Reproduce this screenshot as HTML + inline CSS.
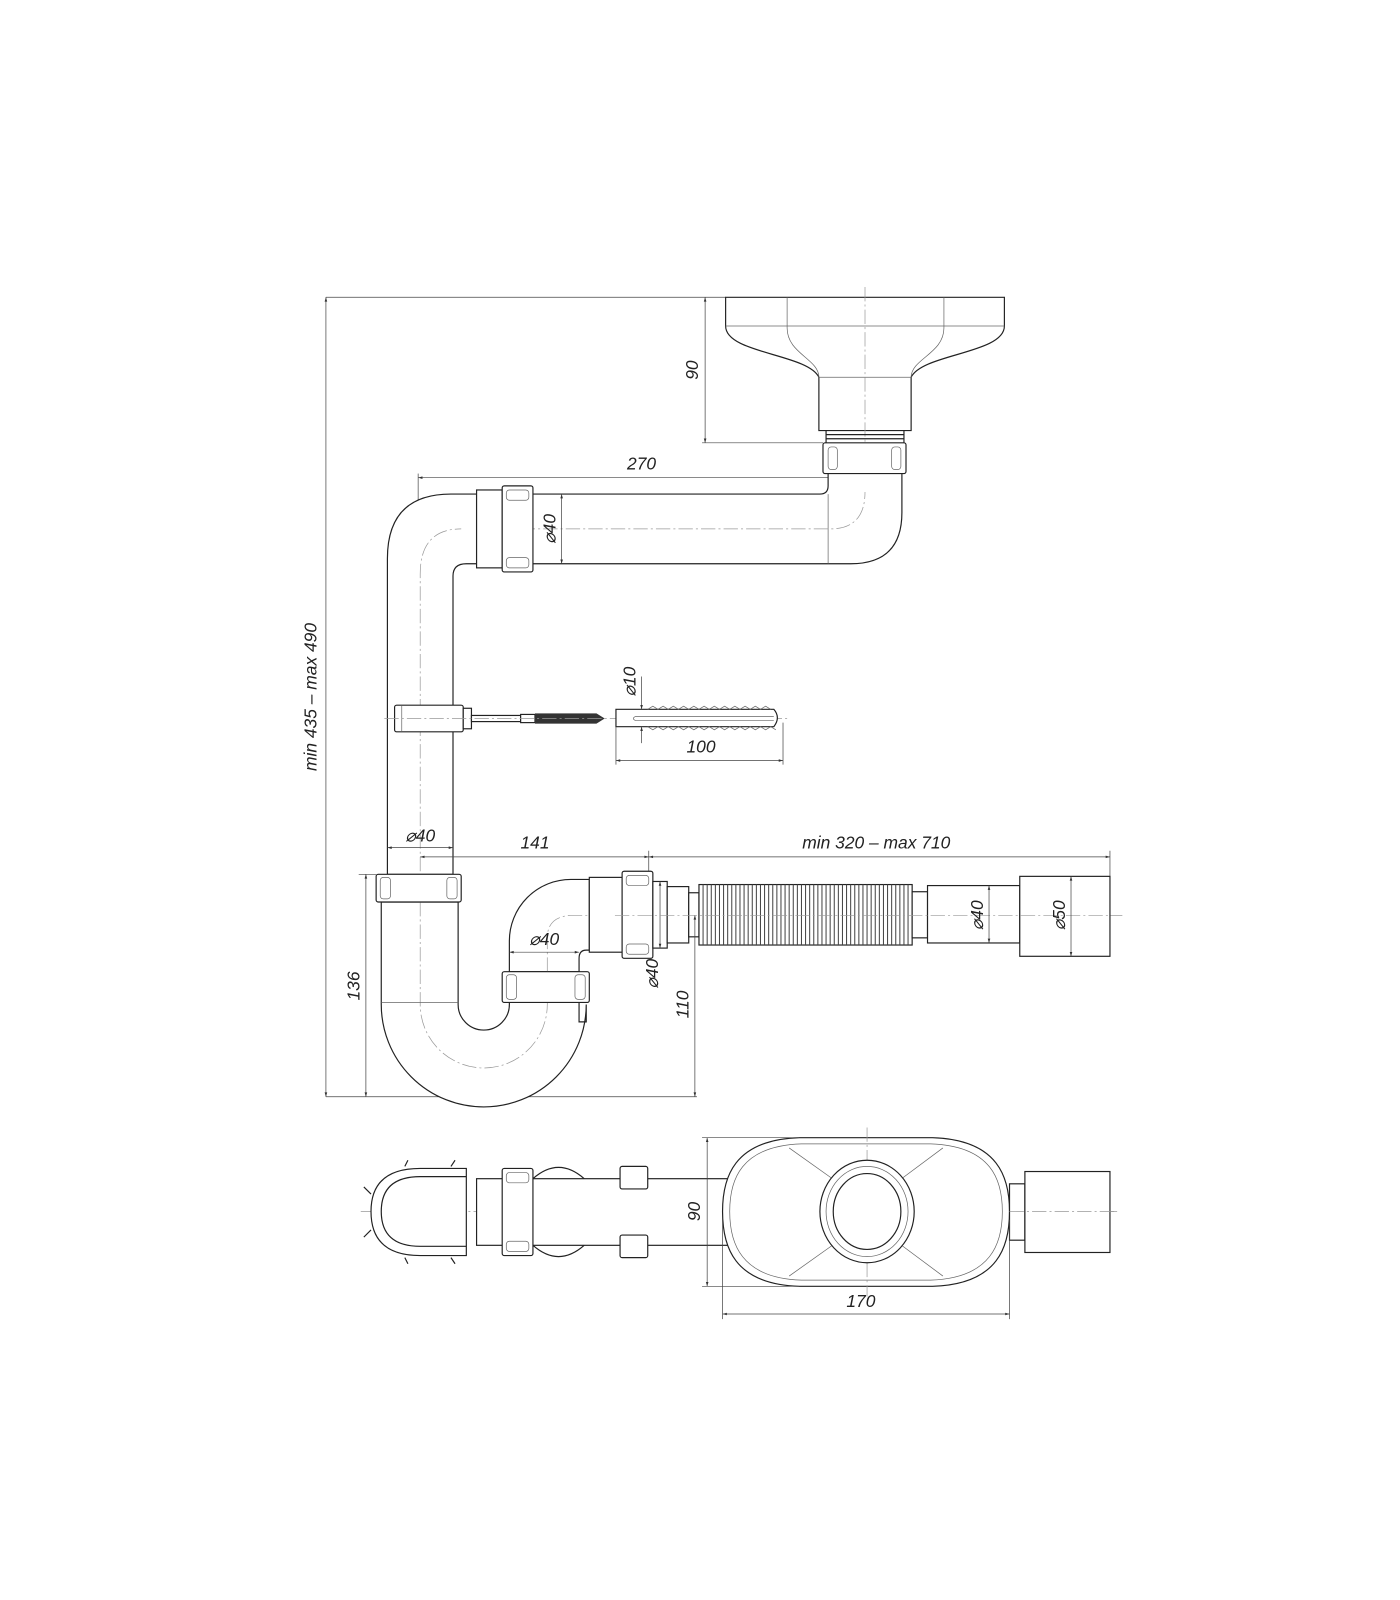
<!DOCTYPE html>
<html><head><meta charset="utf-8"><style>
html,body{margin:0;padding:0;background:#fff}
svg{display:block}
text{font-family:"Liberation Sans",sans-serif;font-style:italic;font-size:17px;fill:#222}
.o{fill:none;stroke:#222;stroke-width:1.15}
.t{fill:none;stroke:#666;stroke-width:0.7}
.c{fill:none;stroke:#999;stroke-width:0.7;stroke-dasharray:14 3 2 3}
.d{fill:none;stroke:#444;stroke-width:0.7}
.w{fill:#fff;stroke:#222;stroke-width:1.15}
</style></head><body>
<svg width="1400" height="1600" viewBox="0 0 1366 1561" xmlns="http://www.w3.org/2000/svg">
<defs>
<marker id="a" viewBox="0 0 10 10" refX="10" refY="5" markerWidth="9" markerHeight="6" orient="auto-start-reverse"><path d="M0,2 L10,5 L0,8" fill="#333"/></marker>
</defs>

<line class="d" x1="318" y1="290" x2="708" y2="290"/>
<line class="d" x1="318" y1="290" x2="318" y2="1070" marker-start="url(#a)" marker-end="url(#a)"/>
<text transform="translate(309,680) rotate(-90)" text-anchor="middle">min 435 – max 490</text>
<line class="d" x1="318" y1="1070" x2="680" y2="1070"/>

<!-- funnel -->
<path class="w" d="M708,290 L980,290 L980,318 C980,345 900,345 889,368 L889,420 L799,420 L799,368 C788,345 708,345 708,318 Z"/>
<line class="t" x1="708" y1="318" x2="980" y2="318"/>
<path class="t" d="M768,290 L768,320 C768,345 799,350 799,368 M921,290 L921,320 C921,345 889,350 889,368"/>
<line class="t" x1="799" y1="368" x2="889" y2="368"/>
<line class="c" x1="844" y1="280" x2="844" y2="470"/>
<path class="o" d="M806,420 L806,432 M882,420 L882,432 M806,424 L882,424 M806,428 L882,428"/>
<rect class="w" x="803" y="432" width="81" height="30" rx="2"/>
<rect class="t" x="808" y="436" width="9" height="22" rx="3"/>
<rect class="t" x="870" y="436" width="9" height="22" rx="3"/>
<line class="d" x1="688" y1="290" x2="688" y2="432" marker-start="url(#a)" marker-end="url(#a)"/>
<line class="d" x1="685" y1="432" x2="803" y2="432"/>
<text transform="translate(681,361) rotate(-90)" text-anchor="middle">90</text>

<line class="d" x1="408" y1="466" x2="843" y2="466" marker-start="url(#a)" marker-end="url(#a)"/>
<line class="d" x1="408" y1="462" x2="408" y2="540"/>
<text x="626" y="458" text-anchor="middle">270</text>

<path class="w" d="M465,482 L800,482 Q808,482 808,474 L808,462 L880,462 L880,500 Q880,550 830,550 L465,550 Z"/>
<line class="t" x1="808" y1="482" x2="808" y2="550"/>
<path class="c" d="M420,516 L810,516 Q844,516 844,480"/>
<path class="w" d="M378,853 L378,545 Q378,482 440,482 L465,482 L465,550 L455,550 Q442,550 442,562 L442,853 Z"/>
<path class="c" d="M410,850 L410,560 Q410,516 450,516"/>
<rect class="w" x="465" y="478" width="25" height="76"/>
<rect class="w" x="490" y="474" width="30" height="84" rx="2"/>
<rect class="t" x="494" y="478" width="22" height="10" rx="3"/>
<rect class="t" x="494" y="544" width="22" height="10" rx="3"/>
<line class="d" x1="548" y1="482" x2="548" y2="550" marker-start="url(#a)" marker-end="url(#a)"/>
<text transform="translate(542,516) rotate(-90)" text-anchor="middle">⌀40</text>

<rect class="w" x="385" y="688" width="67" height="26" rx="2"/>
<line class="t" x1="392" y1="688" x2="392" y2="714"/>
<rect class="w" x="452" y="691" width="8" height="20"/>
<rect class="w" x="460" y="698" width="48" height="6"/>
<rect class="w" x="508" y="697" width="14" height="8"/>
<rect x="522" y="696" width="60" height="10" fill="#333"/>
<path d="M582,696 L590,701 L582,706 Z" fill="#333"/>
<line class="c" x1="375" y1="701" x2="770" y2="701"/>
<path class="w" d="M601,692 L755,692 Q762,700 755,709 L601,709 Z"/>
<path class="t" d="M632,692 l5,-3 l5,3 l5,-3 l5,3 l5,-3 l5,3 l5,-3 l5,3 l5,-3 l5,3 l5,-3 l5,3 l5,-3 l5,3 l5,-3 l5,3 l5,-3 l5,3 l5,-3 l5,3 l5,-3 l5,3 l5,-3 l5,3 M632,709 l5,3 l5,-3 l5,3 l5,-3 l5,3 l5,-3 l5,3 l5,-3 l5,3 l5,-3 l5,3 l5,-3 l5,3 l5,-3 l5,3 l5,-3 l5,3 l5,-3 l5,3 l5,-3 l5,3 l5,-3 l5,3 l5,-3 l5,3"/>
<path class="t" d="M620,699 L755,699 M620,703 L755,703 M620,699 Q616,701 620,703"/>
<line class="d" x1="626" y1="660" x2="626" y2="692" marker-end="url(#a)"/>
<line class="d" x1="626" y1="725" x2="626" y2="709" marker-end="url(#a)"/>
<text transform="translate(620,665) rotate(-90)" text-anchor="middle">⌀10</text>
<line class="d" x1="601" y1="709" x2="601" y2="746"/>
<line class="d" x1="764" y1="705" x2="764" y2="746"/>
<line class="d" x1="601" y1="742" x2="764" y2="742" marker-start="url(#a)" marker-end="url(#a)"/>
<text x="684" y="734" text-anchor="middle">100</text>

<line class="d" x1="378" y1="827" x2="442" y2="827" marker-start="url(#a)" marker-end="url(#a)"/>
<text x="410" y="821" text-anchor="middle">⌀40</text>
<line class="d" x1="410" y1="836" x2="633" y2="836" marker-start="url(#a)" marker-end="url(#a)"/>
<line class="d" x1="633" y1="836" x2="1083" y2="836" marker-start="url(#a)" marker-end="url(#a)"/>
<line class="d" x1="633" y1="830" x2="633" y2="852"/>
<line class="d" x1="1083" y1="830" x2="1083" y2="856"/>
<text x="522" y="828" text-anchor="middle">141</text>
<text x="855" y="828" text-anchor="middle">min 320 – max 710</text>
<line class="d" x1="357" y1="853" x2="357" y2="1070" marker-start="url(#a)" marker-end="url(#a)"/>
<line class="d" x1="350" y1="853" x2="367" y2="853"/>
<text transform="translate(351,962) rotate(-90)" text-anchor="middle">136</text>

<path class="w" d="M372,880 L447,880 L447,980 A25,25 0 0 0 497,980 L497,978 L565,978 L565,997 L572,997 L572,980 A100,100 0 0 1 372,980 Z"/>
<path class="c" d="M410,880 L410,980 A62,62 0 0 0 534,980 L534,930"/>
<line class="t" x1="372" y1="978" x2="447" y2="978"/>
<rect class="w" x="367" y="853" width="83" height="27" rx="2"/>
<rect class="t" x="371" y="856" width="10" height="21" rx="3"/>
<rect class="t" x="436" y="856" width="10" height="21" rx="3"/>
<path class="w" d="M497,948 L497,918 A60,60 0 0 1 557,858 L575,858 L575,927 L572,927 Q565,927 565,935 L565,948 Z"/>
<path class="c" d="M534,948 L534,915 Q534,893 560,893 L1095,893"/>
<rect class="w" x="490" y="948" width="85" height="30" rx="2"/>
<rect class="t" x="494" y="951" width="10" height="24" rx="3"/>
<rect class="t" x="561" y="951" width="10" height="24" rx="3"/>
<line class="d" x1="497" y1="929" x2="565" y2="929" marker-start="url(#a)" marker-end="url(#a)"/>
<text x="531" y="922" text-anchor="middle">⌀40</text>
<rect class="w" x="575" y="856" width="32" height="73"/>
<rect class="w" x="607" y="850" width="30" height="85" rx="2"/>
<rect class="t" x="611" y="854" width="22" height="10" rx="3"/>
<rect class="t" x="611" y="921" width="22" height="10" rx="3"/>
<rect class="w" x="637" y="860" width="14" height="65"/>
<rect class="w" x="651" y="865" width="21" height="55"/>
<rect class="w" x="672" y="871" width="10" height="43"/>
<line class="d" x1="644" y1="860" x2="644" y2="925" marker-start="url(#a)" marker-end="url(#a)"/>
<text transform="translate(642,950) rotate(-90)" text-anchor="middle">⌀40</text>
<line class="d" x1="678" y1="893" x2="678" y2="1070" marker-start="url(#a)" marker-end="url(#a)"/>
<text transform="translate(672,980) rotate(-90)" text-anchor="middle">110</text>
<rect class="w" x="682" y="863" width="208" height="59"/>
<path d="M686,863 V922 M690,863 V922 M694,863 V922 M698,863 V922 M702,863 V922 M706,863 V922 M710,863 V922 M714,863 V922 M718,863 V922 M722,863 V922 M726,863 V922 M730,863 V922 M734,863 V922 M738,863 V922 M742,863 V922 M746,863 V922 M750,863 V922 M754,863 V922 M758,863 V922 M762,863 V922 M766,863 V922 M770,863 V922 M774,863 V922 M778,863 V922 M782,863 V922 M786,863 V922 M790,863 V922 M794,863 V922 M798,863 V922 M802,863 V922 M806,863 V922 M810,863 V922 M814,863 V922 M818,863 V922 M822,863 V922 M826,863 V922 M830,863 V922 M834,863 V922 M838,863 V922 M842,863 V922 M846,863 V922 M850,863 V922 M854,863 V922 M858,863 V922 M862,863 V922 M866,863 V922 M870,863 V922 M874,863 V922 M878,863 V922 M882,863 V922 M886,863 V922" stroke="#444" stroke-width="1"/>
<rect class="w" x="890" y="870" width="15" height="45"/>
<rect class="w" x="905" y="864" width="90" height="56"/>
<rect class="w" x="995" y="855" width="88" height="78"/>
<line class="c" x1="600" y1="893" x2="1095" y2="893"/>
<line class="d" x1="965" y1="864" x2="965" y2="920" marker-start="url(#a)" marker-end="url(#a)"/>
<text transform="translate(959,893) rotate(-90)" text-anchor="middle">⌀40</text>
<line class="d" x1="1045" y1="855" x2="1045" y2="933" marker-start="url(#a)" marker-end="url(#a)"/>
<text transform="translate(1039,893) rotate(-90)" text-anchor="middle">⌀50</text>

<!-- plan view -->
<line class="c" x1="352" y1="1182" x2="1090" y2="1182"/>
<rect class="w" x="465" y="1150" width="245" height="65"/>
<rect class="w" x="605" y="1138" width="27" height="22" rx="2"/>
<rect class="w" x="605" y="1205" width="27" height="22" rx="2"/>
<path class="o" d="M520,1150 Q545,1128 570,1150 M520,1215 Q545,1237 570,1215"/>
<rect class="w" x="490" y="1140" width="30" height="85" rx="2"/>
<rect class="t" x="494" y="1144" width="22" height="10" rx="3"/>
<rect class="t" x="494" y="1211" width="22" height="10" rx="3"/>
<path class="w" d="M455,1140 L455,1225 L410,1225 Q362,1225 362,1182 Q362,1140 410,1140 Z"/>
<path class="o" d="M455,1148 L410,1148 Q372,1148 372,1182 Q372,1216 410,1216 L455,1216"/>
<path class="o" d="M362,1165 L355,1158 M362,1200 L355,1207 M395,1138 L398,1132 M440,1138 L444,1132 M395,1227 L398,1233 M440,1227 L444,1233"/>
<path class="w" d="M780,1110 L910,1110 C975,1112 985,1150 985,1182 C985,1215 975,1253 910,1255 L780,1255 C715,1253 705,1215 705,1182 C705,1150 715,1112 780,1110 Z"/>
<path class="t" d="M782,1116 L908,1116 C968,1118 978,1152 978,1182 C978,1212 968,1247 908,1249 L782,1249 C722,1247 712,1212 712,1182 C712,1152 722,1118 782,1116 Z"/>
<line class="t" x1="770" y1="1120" x2="815" y2="1152"/>
<line class="t" x1="920" y1="1120" x2="877" y2="1152"/>
<line class="t" x1="770" y1="1245" x2="815" y2="1213"/>
<line class="t" x1="920" y1="1245" x2="877" y2="1213"/>
<line class="c" x1="846" y1="1100" x2="846" y2="1265"/>
<ellipse class="w" cx="846" cy="1182" rx="46" ry="50"/>
<ellipse class="t" cx="846" cy="1182" rx="40" ry="44"/>
<ellipse class="o" cx="846" cy="1182" rx="33" ry="37"/>
<rect class="w" x="985" y="1155" width="15" height="55"/>
<rect class="w" x="1000" y="1143" width="83" height="79"/>
<line class="c" x1="985" y1="1182" x2="1090" y2="1182"/>
<line class="d" x1="685" y1="1110" x2="780" y2="1110"/>
<line class="d" x1="685" y1="1255" x2="780" y2="1255"/>
<line class="d" x1="690" y1="1110" x2="690" y2="1255" marker-start="url(#a)" marker-end="url(#a)"/>
<text transform="translate(683,1182) rotate(-90)" text-anchor="middle">90</text>
<line class="d" x1="705" y1="1190" x2="705" y2="1287"/>
<line class="d" x1="985" y1="1190" x2="985" y2="1287"/>
<line class="d" x1="705" y1="1282" x2="985" y2="1282" marker-start="url(#a)" marker-end="url(#a)"/>
<text x="840" y="1275" text-anchor="middle">170</text>
</svg>
</body></html>
